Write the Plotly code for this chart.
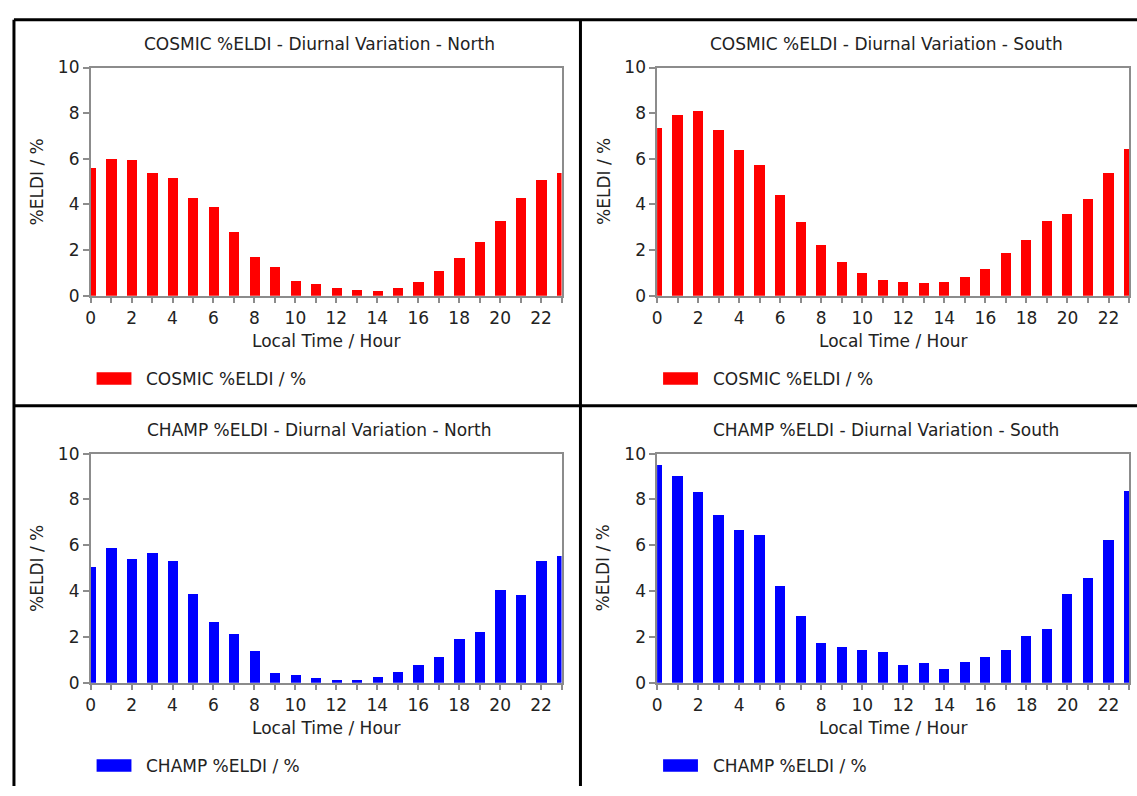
import plotly.graph_objects as go

hours = list(range(24))

cosmic_north = [5.61, 5.99, 5.95, 5.40, 5.16, 4.28, 3.92, 2.83, 1.72, 1.29, 0.67, 0.51,
                0.34, 0.26, 0.23, 0.36, 0.61, 1.09, 1.66, 2.37, 3.28, 4.29, 5.09, 5.40]
cosmic_south = [7.35, 7.92, 8.10, 7.28, 6.39, 5.76, 4.45, 3.23, 2.25, 1.50, 1.01, 0.72,
                0.61, 0.58, 0.62, 0.85, 1.20, 1.88, 2.48, 3.31, 3.60, 4.26, 5.38, 6.47]
champ_north = [5.06, 5.88, 5.40, 5.68, 5.35, 3.87, 2.68, 2.15, 1.40, 0.45, 0.34, 0.21,
               0.14, 0.14, 0.28, 0.50, 0.81, 1.13, 1.93, 2.24, 4.05, 3.84, 5.34, 5.54]
champ_south = [9.50, 9.05, 8.36, 7.32, 6.70, 6.46, 4.25, 2.93, 1.77, 1.57, 1.43, 1.37,
               0.81, 0.88, 0.62, 0.92, 1.15, 1.46, 2.05, 2.35, 3.88, 4.60, 6.25, 8.39]

titles = ["COSMIC %ELDI - Diurnal Variation - North",
          "COSMIC %ELDI - Diurnal Variation - South",
          "CHAMP %ELDI - Diurnal Variation - North",
          "CHAMP %ELDI - Diurnal Variation - South"]
legend_names = ["COSMIC %ELDI / %", "COSMIC %ELDI / %", "CHAMP %ELDI / %", "CHAMP %ELDI / %"]
series = [cosmic_north, cosmic_south, champ_north, champ_south]
colors = ["#ff0000", "#ff0000", "#0000ff", "#0000ff"]
x_title = "Local Time / Hour"
y_title = "%ELDI / %"

W, H = 1137, 796
FONT = "DejaVu Sans"
TXT = "#222222"
AX = "#8c8c8c"

# plot areas in pixels (left, right, top, bottom)
boxes = [(86, 559, 59, 293), (655, 1129, 59, 293),
         (86, 559, 455, 690), (655, 1129, 455, 690)]

def px(x):
    return x / W

def py(y):
    return 1 - y / H

fig = go.Figure()
annotations = []
shapes = []

for i, (vals, col, box) in enumerate(zip(series, colors, boxes)):
    n = "" if i == 0 else str(i + 1)
    xa, ya = "x" + n, "y" + n
    fig.add_trace(go.Bar(x=hours, y=vals, width=0.5, marker=dict(color=col, line=dict(width=0)),
                         name=legend_names[i], showlegend=False, xaxis=xa, yaxis=ya))
    l, r, t, b = box
    axis_common = dict(showline=True, mirror=True, linecolor=AX, linewidth=1.5,
                       showgrid=False, zeroline=False, ticks="outside", tickcolor=AX,
                       tickwidth=1.5, ticklen=6,
                       tickfont=dict(family=FONT, size=17, color=TXT))
    fig.layout["xaxis" + n] = dict(domain=[px(l), px(r)], anchor=ya, range=[0, 23],
                                   tickmode="linear", tick0=0, dtick=2,
                                   minor=dict(ticks="outside", dtick=1, tick0=0, ticklen=6,
                                              tickcolor=AX, tickwidth=1.5),
                                   **axis_common)
    fig.layout["yaxis" + n] = dict(domain=[py(b), py(t)], anchor=xa, range=[0, 10],
                                   tickmode="linear", tick0=0, dtick=2, **axis_common)
    cx = (l + r) / 2
    annotations.append(dict(text=titles[i], x=px(cx - 7), y=py(t - 24), xref="paper", yref="paper",
                            showarrow=False, xanchor="center", yanchor="middle",
                            font=dict(family=FONT, size=17, color=TXT)))
    annotations.append(dict(text=x_title, x=px(cx), y=py(b + 47), xref="paper", yref="paper",
                            showarrow=False, xanchor="center", yanchor="middle",
                            font=dict(family=FONT, size=17, color=TXT)))
    annotations.append(dict(text=y_title, x=px(l - 54), y=py((t + b) / 2), xref="paper", yref="paper",
                            showarrow=False, xanchor="center", yanchor="middle", textangle=-90,
                            font=dict(family=FONT, size=17, color=TXT)))
    # legend
    ly = b + 85
    shapes.append(dict(type="rect", xref="paper", yref="paper",
                       x0=px(l + 6), x1=px(l + 41), y0=py(ly - 6.5), y1=py(ly + 6.5),
                       fillcolor=col, line=dict(width=0)))
    annotations.append(dict(text=legend_names[i], x=px(l + 54), y=py(ly), xref="paper", yref="paper",
                            showarrow=False, xanchor="left", yanchor="middle",
                            font=dict(family=FONT, size=17, color=TXT)))

# panel frame lines
frame = [(9, 10, W, 10), (9, 10, 9, H), (578, 10, 578, H), (9, 406, W, 406)]
for x0, y0, x1, y1 in frame:
    shapes.append(dict(type="line", xref="paper", yref="paper",
                       x0=px(x0), y0=py(y0), x1=px(x1), y1=py(y1),
                       line=dict(color="black", width=3)))

fig.update_layout(width=W, height=H, margin=dict(l=0, r=0, t=0, b=0),
                  paper_bgcolor="white", plot_bgcolor="white",
                  annotations=annotations, shapes=shapes, showlegend=False,
                  font=dict(family=FONT, color=TXT), bargap=0)

fig.write_html("out.html")
